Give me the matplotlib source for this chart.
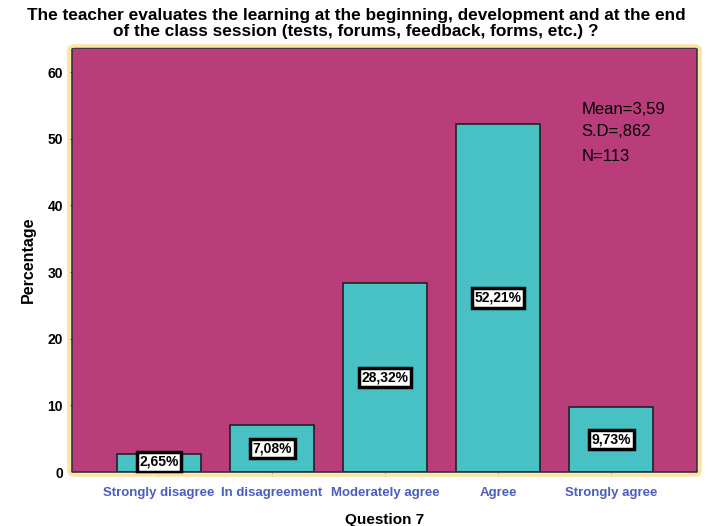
import matplotlib.pyplot as plt
from matplotlib.patches import FancyBboxPatch

categories = ['Strongly disagree', 'In disagreement', 'Moderately agree',
              'Agree', 'Strongly agree']
percentages = [2.65, 7.08, 28.32, 52.21, 9.73]
labels = ['2,65%', '7,08%', '28,32%', '52,21%', '9,73%']
stats = ['Mean=3,59', 'S.D=,862', 'N=113']
stats_y = [0.854, 0.804, 0.743]

plt.rcParams['font.family'] = ['Liberation Sans', 'DejaVu Sans']

fig = plt.figure(figsize=(7.12, 5.26), dpi=100)
ax = fig.add_axes([72 / 712, 1 - 472 / 526, 625 / 712, 424 / 526])

# golden rounded frame around plot area
frame = FancyBboxPatch((69 / 712, 1 - 475 / 526), 631 / 712, 429 / 526,
                       boxstyle='round,pad=0,rounding_size=0.008',
                       transform=fig.transFigure, facecolor='none',
                       edgecolor='#FBE3A0', lw=2.5, zorder=0)
fig.patches.append(frame)

ax.set_facecolor('#BA3D7B')
x = range(len(categories))
ax.bar(x, percentages, width=0.75, color='#48C1C5', edgecolor='#222222',
       lw=1.2, zorder=2)

for i, (v, lab) in enumerate(zip(percentages, labels)):
    ax.text(i, max(v / 2, 1.5), lab, ha='center', va='center',
            fontsize=10, fontweight='bold', zorder=3,
            bbox=dict(boxstyle='square,pad=0.2', fc='white', ec='black', lw=2.5))

for s, yy in zip(stats, stats_y):
    ax.text(0.815, yy, s, transform=ax.transAxes, ha='left', va='center',
            fontsize=12)

ax.set_xlim(-0.77, 4.76)
ax.set_ylim(0, 63.6)
ax.set_yticks([0, 10, 20, 30, 40, 50, 60])
ax.set_xticks(list(x))
ax.set_xticklabels(categories, color='#4A5EBE', fontweight='bold', fontsize=9.5)
for t in ax.get_yticklabels():
    t.set_fontweight('bold')
    t.set_fontsize(10)
ax.tick_params(axis='x', length=3, color='#333333', pad=8)
ax.tick_params(axis='y', length=3, color='#333333')
for s in ax.spines.values():
    s.set_color('#333333')
    s.set_linewidth(1.2)

ax.set_xlabel('Question 7', fontsize=11, fontweight='bold', labelpad=10)
ax.set_ylabel('Percentage', fontsize=11.5, fontweight='bold', labelpad=8)
fig.suptitle('The teacher evaluates the learning at the beginning, development and at the end\n'
             'of the class session (tests, forums, feedback, forms, etc.) ?',
             fontsize=12.4, fontweight='bold', y=0.985, linespacing=1.1)

fig.savefig('out.png', dpi=100)
